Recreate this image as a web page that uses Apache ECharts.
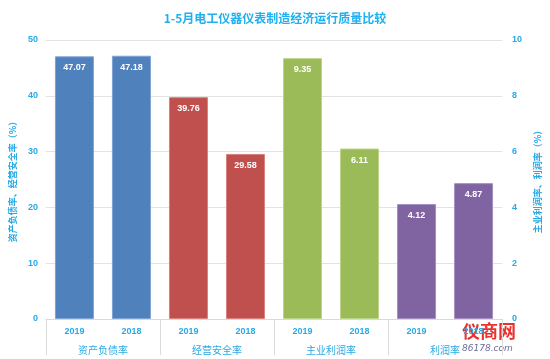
<!DOCTYPE html>
<html><head><meta charset="utf-8">
<script src="https://cdn.jsdelivr.net/npm/echarts@6/dist/echarts.min.js"></script>
<style>html,body{margin:0;padding:0;background:#fff}#c{width:550px;height:359px}</style>
</head><body><div id="c"></div>
<script>
var years = ['2019','2018','2019','2018','2019','2018','2019','2018'];
var groups = ['资产负债率','经营安全率','主业利润率','利润率'];
var leftValues = [47.07, 47.18, 39.76, 29.58, '-', '-', '-', '-'];
var rightValues = ['-', '-', '-', '-', 9.35, 6.11, 4.12, 4.87];
var colors = ['#4F81BD','#4F81BD','#C0504D','#C0504D','#9BBB59','#9BBB59','#8064A2','#8064A2'];
var borders = ['#7fa3d3','#7fa3d3','#d9827f','#d9827f','#bcd48b','#bcd48b','#a38fc0','#a38fc0'];
var leftTicks = {min:0, max:50, interval:10};
var rightTicks = {min:0, max:10, interval:2};

function styled(arr){
  return arr.map(function(v,i){
    if(v==='-') return '-';
    return {value:v, itemStyle:{color:colors[i], borderColor:borders[i], borderWidth:1}};
  });
}
var blue = '#29a9e6';
var chart = echarts.init(document.getElementById('c'));
chart.setOption({
  animation:false,
  title:{text:'1-5月电工仪器仪表制造经济运行质量比较', left:'center', top:7,
    textStyle:{color:'#1fb0f0', fontSize:12, fontWeight:'bold', fontFamily:'Noto Sans CJK SC'}},
  grid:{left:43, right:45, top:40, bottom:40},
  xAxis:[
    {type:'category', data:years, position:'bottom',
      axisLine:{show:true, lineStyle:{color:'#d9d9d9'}}, axisTick:{show:false},
      axisLabel:{color:blue, fontSize:9, fontWeight:'bold', margin:8}},
    {type:'category', data:groups, position:'bottom', offset:0,
      axisLine:{show:false},
      axisTick:{show:true, length:36, lineStyle:{color:'#d9d9d9'}},
      axisLabel:{color:blue, fontSize:10, margin:26, fontFamily:'Noto Sans CJK SC'}}
  ],
  yAxis:[
    {type:'value', min:leftTicks.min, max:leftTicks.max, interval:leftTicks.interval,
      name:'资产负债率、经营安全率（%）', nameLocation:'middle', nameGap:26, nameRotate:90,
      nameTextStyle:{color:blue, fontSize:9, fontWeight:'bold', fontFamily:'Noto Sans CJK SC'},
      axisLine:{show:false}, axisTick:{show:false},
      axisLabel:{color:blue, fontSize:9, fontWeight:'bold', margin:8},
      splitLine:{lineStyle:{color:'#e3e3e3'}}},
    {type:'value', min:rightTicks.min, max:rightTicks.max, interval:rightTicks.interval,
      name:'主业利润率、利润率（%）', nameLocation:'middle', nameGap:30, nameRotate:90,
      nameTextStyle:{color:blue, fontSize:9, fontWeight:'bold', fontFamily:'Noto Sans CJK SC'},
      axisLine:{show:false}, axisTick:{show:false},
      axisLabel:{color:blue, fontSize:9, fontWeight:'bold', margin:10},
      splitLine:{show:false}}
  ],
  series:[
    {type:'bar', xAxisIndex:0, yAxisIndex:0, data:styled(leftValues), barWidth:39, barGap:'-100%',
      label:{show:true, position:'insideTop', distance:7, color:'#fff', fontSize:9, fontWeight:'bold'}},
    {type:'bar', xAxisIndex:0, yAxisIndex:1, data:styled(rightValues), barWidth:39, barGap:'-100%',
      label:{show:true, position:'insideTop', distance:7, color:'#fff', fontSize:9, fontWeight:'bold'}}
  ],
  graphic:[
    {type:'text', left:462, top:322, style:{text:'仪商网', fill:'#e8322f', font:'bold 18px "Noto Sans CJK SC"'}},
    {type:'text', left:462, top:344, style:{text:'86178.com', fill:'#6a6a9a', font:'italic 9px "DejaVu Sans"'}}
  ]
});
</script></body></html>
